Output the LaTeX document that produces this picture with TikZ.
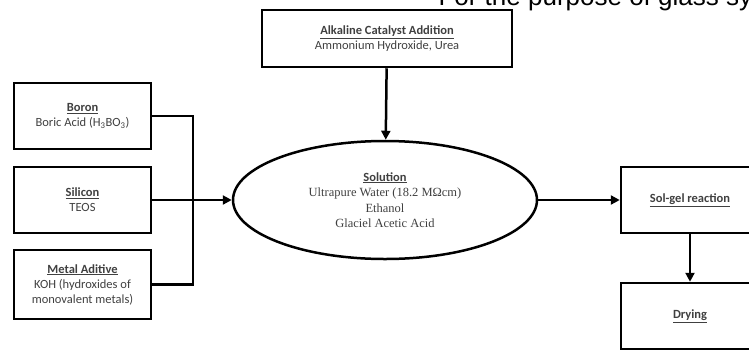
\documentclass[tikz,border=0pt]{standalone}
\usepackage{fontspec}
\setmainfont{Carlito}
\newfontfamily\solfont{Liberation Serif}
\newfontfamily\headfont{Liberation Sans}
\usetikzlibrary{arrows.meta, positioning, shapes.geometric}
\tikzset{>={Triangle[length=9pt,width=9pt]}}

\begin{document}
\begin{tikzpicture}[x=1pt, y=-1pt,
  box/.style={draw, line width=2.5pt, minimum width=137pt, minimum height=66pt, align=center,
    text=black!75, font=\fontsize{12.5}{15}\selectfont},
  link/.style={line width=2.5pt}]
\useasboundingbox (0,0) rectangle (749,349);
\clip (0,0) rectangle (749,349);
% heading cut by the page
\node[anchor=base west, font=\headfont\fontsize{26}{30}\selectfont] (title) at (435,5) {For the purpose of glass sy};
% inputs
\node[box, minimum width=250pt, minimum height=57pt] (catalyst) at (387,38.5) {\textbf{\underline{Alkaline Catalyst Addition}}\\Ammonium Hydroxide, Urea};
\node[box] (boron) at (82.5,116) {\textbf{\underline{Boron}}\\Boric Acid (H\textsubscript{3}BO\textsubscript{3})};
\node[box] (silicon) at (82.5,200) {\textbf{\underline{Silicon}}\\TEOS};
\node[box, minimum height=69pt] (metal) at (82.5,284.5) {\textbf{\underline{Metal Aditive}}\\KOH (hydroxides of\\monovalent metals)};
% mixing
\node[draw, ellipse, line width=2.5pt, minimum width=304pt, minimum height=118pt, align=center,
  text=black!75, font=\fontsize{12.5}{15.5}\selectfont] (solution) at (385,200)
  {{\normalfont\textbf{\underline{Solution}}}\\\solfont Ultrapure Water (18.2 MΩcm)\\\solfont Ethanol\\\solfont Glaciel Acetic Acid};
% process
\node[box, minimum width=138pt] (solgel) at (690,200) {\textbf{\underline{Sol-gel reaction}}};
\node[box, minimum width=138pt] (drying) at (690,316) {\textbf{\underline{Drying}}};
\coordinate (join) at (193,200);
\draw[link] (boron.east) -| (join) |- (metal.east);
\draw[link,->] (silicon.east) -- (solution.west);
\draw[link,->] (catalyst) -- (solution);
\draw[link,->] (solution) -- (solgel);
\draw[link,->] (solgel) -- (drying);
\end{tikzpicture}
\end{document}
